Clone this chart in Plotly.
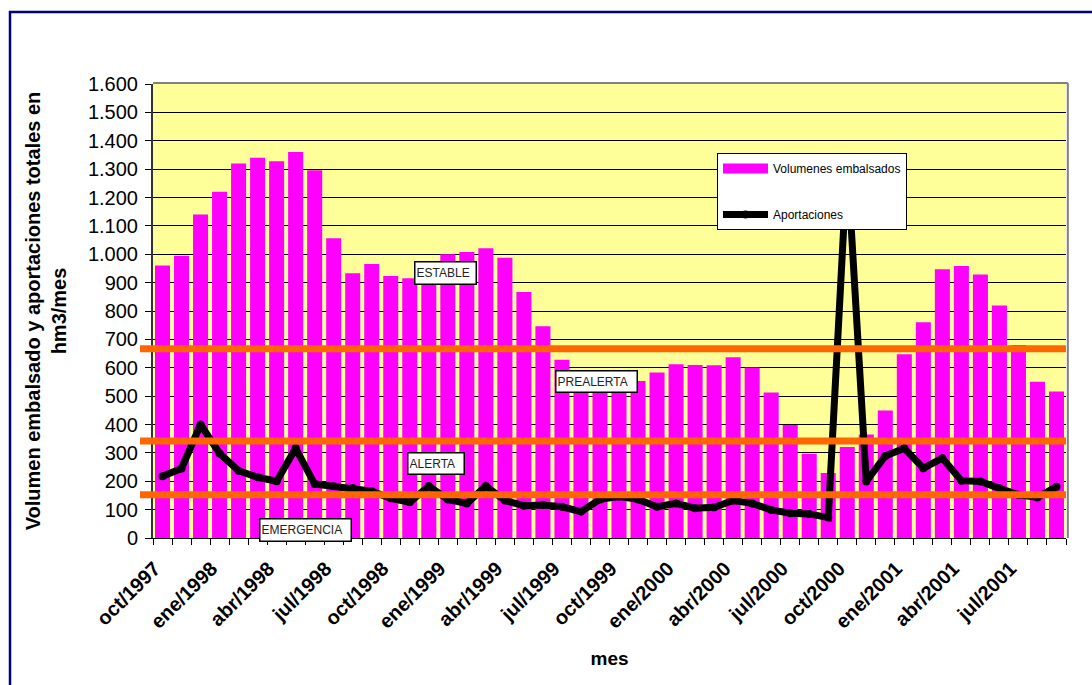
import plotly.graph_objects as go

meses = [
    "oct/1997", "nov/1997", "dic/1997",
    "ene/1998", "feb/1998", "mar/1998", "abr/1998", "may/1998", "jun/1998",
    "jul/1998", "ago/1998", "sep/1998", "oct/1998", "nov/1998", "dic/1998",
    "ene/1999", "feb/1999", "mar/1999", "abr/1999", "may/1999", "jun/1999",
    "jul/1999", "ago/1999", "sep/1999", "oct/1999", "nov/1999", "dic/1999",
    "ene/2000", "feb/2000", "mar/2000", "abr/2000", "may/2000", "jun/2000",
    "jul/2000", "ago/2000", "sep/2000", "oct/2000", "nov/2000", "dic/2000",
    "ene/2001", "feb/2001", "mar/2001", "abr/2001", "may/2001", "jun/2001",
    "jul/2001", "ago/2001", "sep/2001",
]

volumenes = [960, 995, 1140, 1220, 1320, 1340, 1328, 1360, 1296, 1056, 933, 966,
             923, 915, 955, 1000, 1008, 1021, 988, 867, 746, 628, 540, 520,
             530, 553, 583, 612, 610, 609, 637, 601, 513, 398, 297, 229,
             321, 365, 449, 648, 760, 947, 959, 929, 819, 680, 551, 516]

aportaciones = [218, 245, 400, 298, 237, 214, 200, 316, 190, 182, 176, 165,
                140, 126, 183, 136, 122, 183, 132, 114, 116, 110, 93, 136,
                146, 136, 110, 122, 105, 108, 132, 122, 99, 87, 85, 72,
                1330, 199, 289, 316, 246, 281, 202, 199, 175, 152, 143, 181]

umbrales = [667, 342, 152]
estados = ["ESTABLE", "PREALERTA", "ALERTA", "EMERGENCIA"]

etiquetas_y = ["0", "100", "200", "300", "400", "500", "600", "700", "800",
               "900", "1.000", "1.100", "1.200", "1.300", "1.400", "1.500", "1.600"]
valores_y = [int(t.replace(".", "")) for t in etiquetas_y]

x = list(range(len(meses)))
tick_idx = x[::3]
tick_txt = meses[::3]

W, H = 1092, 685
L, R, T, B = 153, 26, 84, 147
pw, ph = W - L - R, H - T - B


def px(xp):
    return (xp - L) / pw


def py(yp):
    return (H - B - yp) / ph


FONT = "Liberation Sans, Arial, sans-serif"

fig = go.Figure()
fig.add_trace(go.Bar(
    x=x, y=volumenes, name="Volumenes embalsados",
    marker=dict(color="#FF00FF", line=dict(width=0)),
    showlegend=False,
))
fig.add_trace(go.Scatter(
    x=x, y=aportaciones, name="Aportaciones", mode="lines+markers",
    line=dict(color="black", width=7),
    marker=dict(color="black", size=8, symbol="circle"),
    legendgroup="b", legendrank=2,
))
# legend swatch for the bar series (wide rectangle like the original)
fig.add_trace(go.Scatter(
    x=[None], y=[None], name="Volumenes embalsados", mode="lines",
    line=dict(color="#FF00FF", width=13),
    legendgroup="a", legendrank=1, hoverinfo="skip",
))

shapes = []
for u in umbrales:
    shapes.append(dict(type="line", xref="paper", yref="y",
                       x0=px(140), x1=1.0, y0=u, y1=u,
                       line=dict(color="#FF6600", width=7), layer="above"))
# plot area frame (top/right)
shapes.append(dict(type="line", xref="paper", yref="paper", x0=0, x1=1.002, y0=1.002, y1=1.002,
                   line=dict(color="#808080", width=2), layer="above"))
shapes.append(dict(type="line", xref="paper", yref="paper", x0=1.002, x1=1.002, y0=0, y1=1.002,
                   line=dict(color="#808080", width=2), layer="above"))
# outer chart border
shapes.append(dict(type="rect", xref="paper", yref="paper",
                   x0=px(10), x1=px(1100), y0=py(700), y1=py(12),
                   line=dict(color="#000080", width=2.5), fillcolor="rgba(0,0,0,0)", layer="above"))

boxes = [
    (estados[0], 445, 272.5, 58, 19),
    (estados[1], 596, 381, 78, 18),
    (estados[2], 435.5, 463, 53, 18),
    (estados[3], 305, 529.5, 88, 19),
]
annotations = []
for txt, cx, cy, bw, bh in boxes:
    annotations.append(dict(
        text=txt, xref="paper", yref="paper", x=px(cx), y=py(cy),
        xanchor="center", yanchor="middle", showarrow=False,
        font=dict(family=FONT, size=12, color="#222222"),
        bgcolor="white", bordercolor="black", borderwidth=1.5, borderpad=1,
        width=bw, height=bh, align="left", valign="middle",
    ))

fig.update_layout(
    width=W, height=H,
    margin=dict(l=L, r=R, t=T, b=B, pad=0),
    paper_bgcolor="white",
    plot_bgcolor="#FFFF99",
    bargap=0.21,
    font=dict(family=FONT, color="black"),
    showlegend=True,
    legend=dict(
        x=px(717), y=py(153), xanchor="left", yanchor="top",
        bgcolor="white", bordercolor="black", borderwidth=1,
        font=dict(family=FONT, size=12, color="black"),
        traceorder="grouped", tracegroupgap=27, itemwidth=45,
    ),
    shapes=shapes,
    annotations=annotations,
    xaxis=dict(
        range=[-0.5, len(meses) - 0.5],
        tickmode="array", tickvals=tick_idx, ticktext=tick_txt,
        tickangle=-45, ticks="", showgrid=False, zeroline=False,
        showline=True, linecolor="black", linewidth=1,
        tickfont=dict(family=FONT, size=20, color="black", weight="bold"),
        ticklabelstandoff=10, ticklabelshift=-8,
        minor=dict(ticks="outside", tick0=-0.5, dtick=1, ticklen=6,
                   tickcolor="black", tickwidth=1, showgrid=False),
        title=dict(text="<b>mes</b>", font=dict(family=FONT, size=19, color="black"), standoff=20),
    ),
    yaxis=dict(
        range=[0, 1600],
        tickmode="array", tickvals=valores_y, ticktext=etiquetas_y,
        ticks="outside", ticklen=6, tickcolor="black", tickwidth=1,
        showgrid=True, gridcolor="black", gridwidth=1, zeroline=False,
        showline=True, linecolor="#333333", linewidth=2,
        tickfont=dict(family=FONT, size=20, color="black"),
        ticklabelstandoff=3,
        title=dict(text="<b>Volumen embalsado y aportaciones totales en<br>hm3/mes</b>",
                   font=dict(family=FONT, size=20, color="black"), standoff=16),
    ),
)

fig.write_html("out.html")
